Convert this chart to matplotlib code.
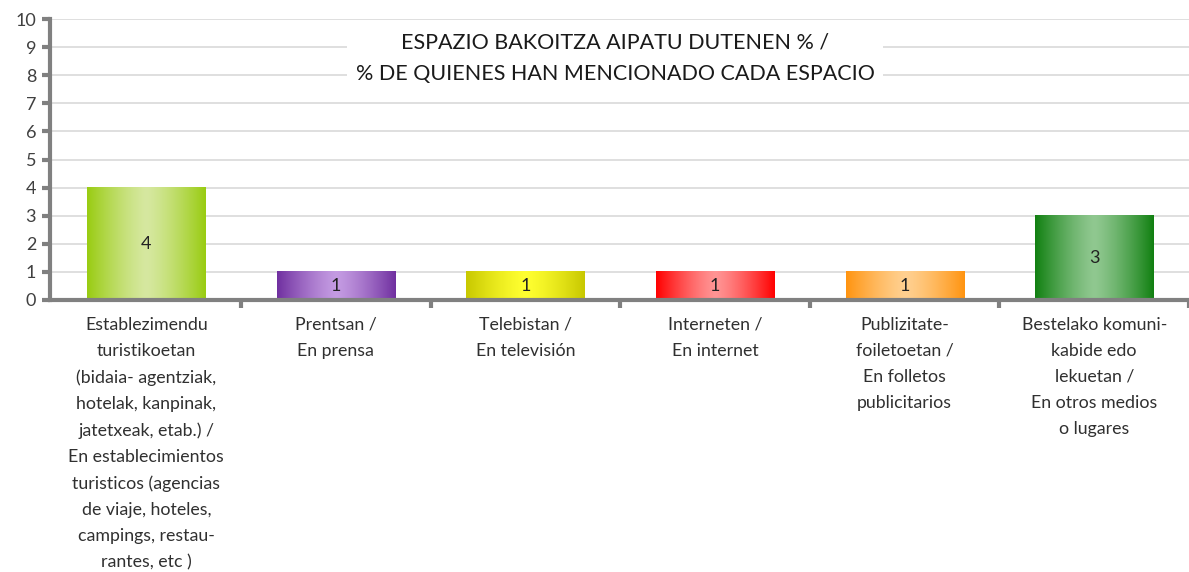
import numpy as np
import matplotlib
matplotlib.use("Agg")
import matplotlib.pyplot as plt
from matplotlib.colors import to_rgb

categories = [
    "Establezimendu\nturistikoetan\n(bidaia- agentziak,\nhotelak, kanpinak,\njatetxeak, etab.) /\nEn establecimientos\nturisticos (agencias\nde viaje, hoteles,\ncampings, restau-\nrantes, etc )",
    "Prentsan /\nEn prensa",
    "Telebistan /\nEn televisión",
    "Interneten /\nEn internet",
    "Publizitate-\nfoiletoetan /\nEn folletos\npublicitarios",
    "Bestelako komuni-\nkabide edo\nlekuetan /\nEn otros medios\no lugares",
]
values = [4, 1, 1, 1, 1, 3]
edge_colors = ["#99CC11", "#7030A0", "#C8C800", "#FF0000", "#FF9410", "#118011"]
center_colors = ["#D6E8A0", "#C49BE2", "#FFFF30", "#FF9494", "#FFD090", "#90C890"]
title = "ESPAZIO BAKOITZA AIPATU DUTENEN % /\n% DE QUIENES HAN MENCIONADO CADA ESPACIO"
yticks = list(range(0, 11))

plt.rcParams['font.family'] = ['Lato', 'DejaVu Sans']

fig = plt.figure(figsize=(11.89, 5.72), dpi=100)
ax_left_px, ax_w_px = 50, 1139
ax = fig.add_axes([ax_left_px/1189, 272/572, ax_w_px/1189, 281/572])

ncat = len(values)
cat_px = 191.0
xlim_left = -97.0 / cat_px
xlim_right = xlim_left + ax_w_px / cat_px

bar_w = 0.623
bars = ax.bar(range(ncat), values, width=bar_w, color='none', zorder=2)
t = np.linspace(-1, 1, 256)
w = np.abs(t) ** 1.3
for b, ec, cc, v in zip(bars, edge_colors, center_colors, values):
    e = np.array(to_rgb(ec)); c = np.array(to_rgb(cc))
    grad = (w[:, None] * e[None, :] + (1 - w[:, None]) * c[None, :])[None, :, :]
    x0 = b.get_x(); x1 = x0 + b.get_width()
    ax.imshow(grad, extent=[x0, x1, 0, b.get_height()], aspect='auto',
              zorder=2, interpolation='bilinear')
    ax.text(b.get_x() + b.get_width() / 2, v / 2, str(v), ha='center', va='center',
            fontsize=13, color='#222222', zorder=4)
ax.set_xlim(xlim_left, xlim_right)
ax.set_ylim(0, 10)

ax.set_yticks(yticks)
ax.set_yticklabels([str(y) for y in yticks], fontsize=13, color='#404040')
ax.yaxis.grid(True, color='#D9D9D9', linewidth=1.2, zorder=0)
ax.set_axisbelow(True)

ax.set_xticks(np.arange(ncat))
ax.set_xticklabels(categories, fontsize=12.8, color='#303030', linespacing=1.77, va='top')
ax.tick_params(axis='x', length=0, pad=12)
ax.set_xticks(np.arange(ncat) + 0.5, minor=True)
ax.tick_params(axis='x', which='minor', length=6, width=3, color='#808080')
ax.tick_params(axis='y', length=6, width=3, color='#808080', pad=4)

for s in ['top', 'right']:
    ax.spines[s].set_visible(False)
for s in ['left', 'bottom']:
    ax.spines[s].set_color('#808080')
    ax.spines[s].set_linewidth(3)

ax.text((615 - ax_left_px) / ax_w_px, 0.86, title,
        transform=ax.transAxes, ha='center', va='center', fontsize=15.5,
        color='#1a1a1a', linespacing=1.72, zorder=5,
        bbox=dict(facecolor='white', edgecolor='none', pad=6))

fig.savefig("out.png", dpi=100)
